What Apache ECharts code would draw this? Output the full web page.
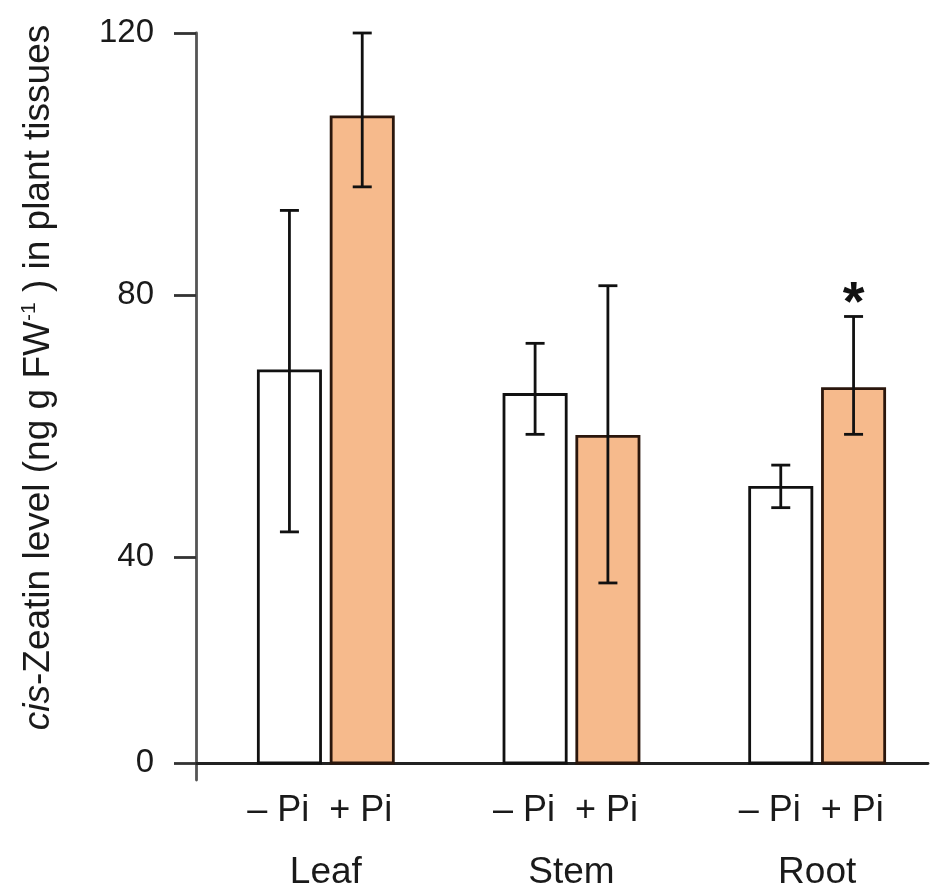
<!DOCTYPE html>
<html>
<head>
<meta charset="utf-8">
<title>cis-Zeatin level</title>
<script src="https://cdn.jsdelivr.net/npm/echarts@6.0.0/dist/echarts.min.js"></script>
<style>
  html, body { margin: 0; padding: 0; background: #fff; }
  #chart { width: 950px; height: 896px; }
</style>
</head>
<body>
<div id="chart"></div>
<script>
// values (ng g FW-1)
const CATEGORIES = ["Leaf", "Stem", "Root"];
const SUB_LABELS = ["\u2013 Pi", "+ Pi"];

const MINUS_PI      = [68.6, 65.0, 50.8];
const MINUS_PI_LOW  = [43.8, 58.7, 47.5];
const MINUS_PI_HIGH = [92.9, 72.6, 54.0];

const PLUS_PI      = [107.4, 58.6, 65.9];
const PLUS_PI_LOW  = [96.5, 36.0, 58.7];
const PLUS_PI_HIGH = [120.0, 81.4, 76.7];
const PLUS_PI_SIG  = ["", "", "*"];

const Y_TICKS = [0, 40, 80, 120];
// the figure's "0" sits at the baseline, a bit above where a linear 0 would be
const Y_BASE = 8.5;
const Y_MAX = 120;

const FONT = "'Liberation Sans', Arial, Helvetica, sans-serif";
const ORANGE = "#F6BA8C";
const BAR_W = 65;
const BAR_GAP = 0.12;
const CAP = 19;

const tickPos = Y_TICKS.map(v => (v === 0 ? Y_BASE : v));
// axis line runs a little below the baseline in the figure
const Y_STUB = Y_BASE - 17 * (Y_MAX - Y_BASE) / 730;

function errRender(sign, sigs){
  return function(params, api){
    const i = params.dataIndex;
    const lo = api.coord([api.value(0), api.value(1)]);
    const hi = api.coord([api.value(0), api.value(2)]);
    const x = lo[0] + sign * (BAR_W + BAR_W * BAR_GAP) / 2;
    const st = { stroke: "#111", lineWidth: 2.8 };
    const kids = [
      { type: "line", shape: { x1: x, y1: lo[1], x2: x, y2: hi[1] }, style: st },
      { type: "line", shape: { x1: x - CAP/2, y1: lo[1], x2: x + CAP/2, y2: lo[1] }, style: st },
      { type: "line", shape: { x1: x - CAP/2, y1: hi[1], x2: x + CAP/2, y2: hi[1] }, style: st }
    ];
    if (sigs && sigs[i]){
      kids.push({
        type: "text",
        style: { text: sigs[i], x: x, y: hi[1] - 12, align: "center", verticalAlign: "middle",
                 fontSize: 56, fontWeight: "bold", fill: "#111", fontFamily: FONT }
      });
    }
    return { type: "group", children: kids };
  };
}

const chart = echarts.init(document.getElementById("chart"), null, { renderer: "canvas" });

const option = {
  backgroundColor: "#fff",
  animation: false,
  grid: [
    { left: 196, right: 22, top: 33, bottom: 116 },   // y axis frame
    { left: 196, right: 22, top: 33, bottom: 133 },   // x axis line
    { left: 203, right: 10, top: 33, bottom: 133 }    // bars
  ],
  xAxis: [
    { gridIndex: 0, type: "category", data: CATEGORIES, show: false },
    { gridIndex: 1, type: "category", data: CATEGORIES,
      axisLine: { lineStyle: { color: "#222", width: 2.8 } },
      axisTick: { show: false }, axisLabel: { show: false } },
    { gridIndex: 2, type: "category", data: CATEGORIES,
      axisLine: { show: false }, axisTick: { show: false },
      axisLabel: {
        interval: 0, margin: 17, color: "#1a1a1a", fontFamily: FONT,
        formatter: (v) => `{sub|${SUB_LABELS[0]}  ${SUB_LABELS[1]}}\n{cat|${v}}`,
        rich: {
          sub: { fontSize: 36, lineHeight: 62, fontFamily: FONT, color: "#1a1a1a", padding: [0, 12, 0, 0] },
          cat: { fontSize: 37, lineHeight: 62, fontFamily: FONT, color: "#1a1a1a" }
        }
      } }
  ],
  yAxis: [
    { gridIndex: 0, type: "value", min: Y_STUB, max: Y_MAX,
      splitLine: { show: false },
      axisLine: { show: true, lineStyle: { color: "#555", width: 2.8 } },
      axisTick: { show: true, inside: false, length: 22, customValues: tickPos,
                  lineStyle: { color: "#333", width: 2.8 } },
      axisLabel: { customValues: tickPos, margin: 42, fontSize: 33, color: "#1a1a1a", fontFamily: FONT,
                   formatter: (v) => (Math.abs(v - Y_BASE) < 0.01 ? "0" : String(Math.round(v))) },
      name: "{it|cis}-Zeatin level (ng g FW{sup|-1} ) in plant tissues",
      nameLocation: "middle", nameRotate: 90, nameGap: 137,
      nameTextStyle: {
        fontSize: 37, color: "#1a1a1a", fontFamily: FONT, padding: [0, 0, 0, 58],
        rich: {
          it: { fontSize: 37, fontStyle: "italic", fontFamily: FONT, color: "#1a1a1a" },
          sup: { fontSize: 21, fontFamily: FONT, color: "#1a1a1a", padding: [0, 0, 19, 0] }
        }
      } },
    { gridIndex: 1, type: "value", min: Y_BASE, max: Y_MAX, show: false },
    { gridIndex: 2, type: "value", min: Y_BASE, max: Y_MAX, show: false }
  ],
  series: [
    { name: "\u2013 Pi", type: "bar", xAxisIndex: 2, yAxisIndex: 2, data: MINUS_PI,
      startValue: Y_BASE, barWidth: BAR_W, barGap: (BAR_GAP * 100) + "%",
      itemStyle: { color: "#fff", borderColor: "#111", borderWidth: 2.8 } },
    { name: "+ Pi", type: "bar", xAxisIndex: 2, yAxisIndex: 2, data: PLUS_PI,
      startValue: Y_BASE, barWidth: BAR_W, barGap: (BAR_GAP * 100) + "%",
      itemStyle: { color: ORANGE, borderColor: "#2a160c", borderWidth: 2.8 } },
    { type: "custom", xAxisIndex: 2, yAxisIndex: 2, z: 10,
      data: CATEGORIES.map((c, i) => [i, MINUS_PI_LOW[i], MINUS_PI_HIGH[i]]),
      renderItem: errRender(-1, null) },
    { type: "custom", xAxisIndex: 2, yAxisIndex: 2, z: 10, clip: false,
      data: CATEGORIES.map((c, i) => [i, PLUS_PI_LOW[i], PLUS_PI_HIGH[i]]),
      renderItem: errRender(1, PLUS_PI_SIG) }
  ]
};

chart.setOption(option);
</script>
</body>
</html>
